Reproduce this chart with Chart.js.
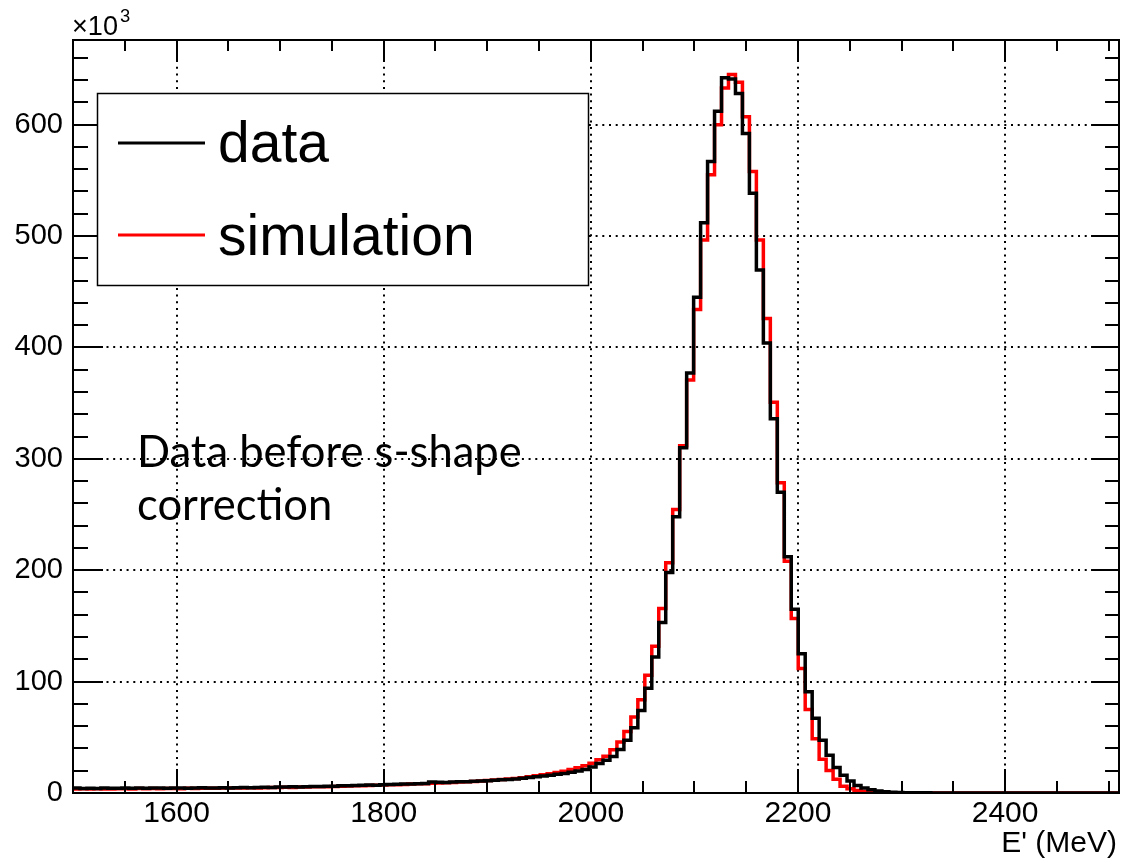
<!DOCTYPE html>
<html>
<head>
<meta charset="utf-8">
<script src="https://cdn.jsdelivr.net/npm/chart.js@4.4.0/dist/chart.umd.min.js"></script>
<style>
  html, body { margin: 0; padding: 0; background: #fff; }
  #wrap { width: 1125px; height: 860px; position: relative; }
</style>
</head>
<body>
<div id="wrap">
  <canvas id="c" width="1125" height="860"></canvas>
</div>
<script>
// Histogram binning: 150 bins between 1500 and 2510 MeV
const binLow = 1500;
const binHigh = 2510;

// Counts per bin, in units of 10^3
const dataCounts = [
  4.4, 4.0, 4.3, 4.1, 4.5, 4.2, 4.3, 4.4, 4.2, 4.5,
  4.3, 4.6, 4.4, 4.2, 4.5, 4.6, 4.3, 4.5, 4.7, 4.4,
  4.6, 4.8, 4.5, 4.7, 4.9, 4.8, 5.0, 5.2, 5.0, 5.3,
  5.4, 5.5, 5.3, 5.7, 5.8, 5.9, 6.1, 6.0, 6.4, 6.6,
  6.7, 6.9, 7.2, 7.0, 7.4, 7.6, 7.8, 8.1, 8.0, 8.4,
  8.6, 9.9, 9.6, 9.4, 9.8, 10.0, 10.1, 10.5, 10.7, 11.0,
  11.5, 11.8, 12.2, 12.6, 13.2, 13.9, 14.5, 15.3, 16.0, 16.8,
  17.6, 18.6, 19.8, 21.2, 23.3, 26.5, 29.5, 32.8, 39.0, 47.3,
  58.6, 74.0, 94.0, 122.0, 153.0, 198.0, 248.0, 310.0, 377.0, 445.0,
  512.0, 567.0, 612.0, 642.0, 641.0, 628.0, 592.0, 538.5, 469.5, 404.0,
  336.0, 270.0, 212.0, 165.0, 125.0, 91.0, 67.0, 47.3, 34.0, 23.0,
  16.0, 10.8, 6.7, 4.4, 2.9, 1.8, 1.1, 0.7, 0.45, 0.3,
  0.2, 0.15, 0.12, 0.1, 0.08, 0.07, 0.06, 0.05, 0.04, 0.04,
  0.03, 0.03, 0.03, 0.02, 0.02, 0.02, 0.02, 0.02, 0.01, 0.01,
  0.01, 0.01, 0.01, 0.01, 0.01, 0.01, 0.01, 0.01, 0.01, 0.01
];

const simCounts = [
  3.6, 3.8, 3.5, 3.9, 3.7, 3.6, 3.9, 3.8, 3.7, 4.0,
  3.9, 4.0, 3.8, 4.1, 4.0, 3.9, 4.2, 4.1, 4.3, 4.2,
  4.3, 4.4, 4.5, 4.4, 4.6, 4.7, 4.6, 4.8, 4.9, 5.0,
  5.1, 5.0, 5.3, 5.4, 5.5, 5.7, 5.6, 5.9, 6.1, 6.2,
  6.4, 6.5, 6.7, 6.9, 7.1, 7.3, 7.5, 7.7, 8.0, 8.2,
  8.4, 8.7, 8.9, 9.2, 9.5, 9.8, 10.1, 10.4, 10.8, 11.2,
  11.6, 12.1, 12.6, 13.1, 13.8, 14.6, 15.4, 16.3, 17.3, 18.4,
  19.6, 21.0, 22.6, 24.5, 26.8, 29.9, 33.0, 38.9, 45.7, 55.3,
  68.2, 83.8, 105.7, 131.7, 165.6, 206.6, 254.5, 311.7, 370.7, 434.0,
  496.5, 555.0, 600.0, 633.0, 645.0, 638.0, 607.0, 558.0, 496.5, 426.0,
  350.7, 278.5, 208.0, 156.6, 111.7, 75.0, 48.8, 30.3, 20.3, 12.3,
  6.0, 3.8, 2.3, 1.4, 0.8, 0.5, 0.3, 0.2, 0.12, 0.08,
  0.05, 0.04, 0.03, 0.02, 0.02, 0.01, 0.01, 0.01, 0, 0,
  0, 0, 0, 0, 0, 0, 0, 0, 0, 0,
  0, 0, 0, 0, 0, 0, 0, 0, 0, 0
];

const xTickValues = [1600, 1800, 2000, 2200, 2400];
const yTickValues = [0, 100, 200, 300, 400, 500, 600];
const yMax = 676;
const seriesLabels = ['data', 'simulation'];
const seriesColors = ['#000000', '#ff0000'];
const xTitle = "E' (MeV)";
const yExponentBase = '\u00d710';
const yExponentPower = '3';
const noteLines = ['Data before s-shape', 'correction'];

// Turn per-bin counts into a step outline (left and right edge of every bin)
function histOutline(counts) {
  const w = (binHigh - binLow) / counts.length;
  const pts = [];
  counts.forEach((c, i) => {
    const lo = binLow + i * w;
    pts.push({ x: lo, y: c }, { x: lo + w, y: c });
  });
  return pts;
}

const SANS = '"Liberation Sans", Arial, Helvetica, sans-serif';

// ROOT-like frame with inward major/minor ticks on all four sides
const framePlugin = {
  id: 'frame',
  afterDatasetsDraw(chart) {
    const { ctx, chartArea: a, scales: { x, y } } = chart;
    ctx.save();
    ctx.strokeStyle = '#000';
    ctx.lineWidth = 2;
    ctx.lineCap = 'butt';
    ctx.setLineDash([]);
    ctx.beginPath();
    for (let v = 1500; v <= 2510; v += 50) {
      const px = Math.round(x.getPixelForValue(v));
      const len = (v % 200 === 0) ? 24 : 12;
      ctx.moveTo(px, a.bottom); ctx.lineTo(px, a.bottom - len);
      ctx.moveTo(px, a.top); ctx.lineTo(px, a.top + len * 0.92);
    }
    for (let v = 0; v <= yMax; v += 20) {
      const py = Math.round(y.getPixelForValue(v));
      const len = (v % 100 === 0) ? 30 : 15;
      ctx.moveTo(a.left, py); ctx.lineTo(a.left + len, py);
      ctx.moveTo(a.right, py); ctx.lineTo(a.right - len * 0.93, py);
    }
    ctx.stroke();
    ctx.strokeRect(a.left, a.top, a.right - a.left, a.bottom - a.top);
    ctx.restore();
  },
  afterDraw(chart) {
    const { ctx, chartArea: a } = chart;
    ctx.save();
    ctx.setLineDash([]);
    ctx.fillStyle = '#000';
    ctx.textBaseline = 'alphabetic';
    ctx.textAlign = 'left';

    // y-axis multiplier above the frame, sized so that "x10" spans about 46 px
    ctx.font = 'normal 100px ' + SANS;
    const unitW = ctx.measureText(yExponentBase).width / 100;
    const expSize = Math.max(20, Math.min(40, 46 / unitW));
    ctx.font = 'normal ' + expSize.toFixed(1) + 'px ' + SANS;
    ctx.fillText(yExponentBase, 72, 35);
    const baseW = ctx.measureText(yExponentBase).width;
    ctx.font = 'normal ' + (expSize * 0.68).toFixed(1) + 'px ' + SANS;
    ctx.fillText(yExponentPower, 72 + baseW + 2, 22);

    // x-axis title
    ctx.font = 'normal 30px ' + SANS;
    ctx.textAlign = 'right';
    ctx.fillText(xTitle, a.right - 2, 852);

    // note
    ctx.textAlign = 'left';
    ctx.font = 'normal 43.5px Lato, "Open Sans", sans-serif';
    ctx.fillText(noteLines[0], 137, 467);
    ctx.fillText(noteLines[1], 137, 520);

    // legend box
    const bx = 97, by = 93, bw = 491, bh = 192;
    ctx.fillStyle = '#fff';
    ctx.fillRect(bx, by, bw, bh);
    ctx.strokeStyle = '#000';
    ctx.lineWidth = 1.5;
    ctx.strokeRect(bx + 0.5, by + 0.5, bw, bh);
    const rowsY = [143, 235];
    const textY = [162, 255];
    chart.data.datasets.forEach((ds, i) => {
      ctx.strokeStyle = ds.borderColor;
      ctx.lineWidth = 3;
      ctx.beginPath();
      ctx.moveTo(118, rowsY[i]);
      ctx.lineTo(205, rowsY[i]);
      ctx.stroke();
      ctx.fillStyle = '#000';
      ctx.font = 'normal 57px ' + SANS;
      ctx.textAlign = 'left';
      ctx.fillText(ds.label, 218, textY[i]);
    });
    ctx.restore();
  }
};

const gridStyle = {
  color: '#000',
  lineWidth: 2,
  drawTicks: false
};

function histDataset(label, counts, color) {
  return {
    label,
    data: histOutline(counts),
    borderColor: color,
    borderWidth: 3.5,
    pointRadius: 0,
    tension: 0,
    fill: false,
    borderJoinStyle: 'miter'
  };
}

new Chart(document.getElementById('c'), {
  type: 'line',
  data: {
    datasets: [
      histDataset(seriesLabels[0], dataCounts, seriesColors[0]),
      histDataset(seriesLabels[1], simCounts, seriesColors[1])
    ]
  },
  options: {
    responsive: false,
    animation: false,
    events: [],
    layout: { padding: { top: 40, right: 6, left: 0, bottom: 0 } },
    plugins: { legend: { display: false }, tooltip: { enabled: false } },
    scales: {
      x: {
        type: 'linear',
        min: binLow,
        max: binHigh,
        afterBuildTicks: s => { s.ticks = xTickValues.map(v => ({ value: v })); },
        afterFit: s => { s.height = 67; },
        ticks: {
          color: '#000',
          font: { family: SANS, size: 30 },
          padding: 3,
          maxRotation: 0,
          autoSkip: false,
          callback: v => String(v)
        },
        grid: gridStyle,
        border: { display: false, dash: [2, 4.7] }
      },
      y: {
        type: 'linear',
        min: 0,
        max: yMax,
        afterBuildTicks: s => { s.ticks = yTickValues.map(v => ({ value: v })); },
        afterFit: s => { s.width = 73; },
        ticks: {
          color: '#000',
          font: { family: SANS, size: 29 },
          padding: 10,
          callback: v => String(v)
        },
        grid: gridStyle,
        border: { display: false, dash: [2, 4.7] }
      }
    }
  },
  plugins: [framePlugin]
});
</script>
</body>
</html>
